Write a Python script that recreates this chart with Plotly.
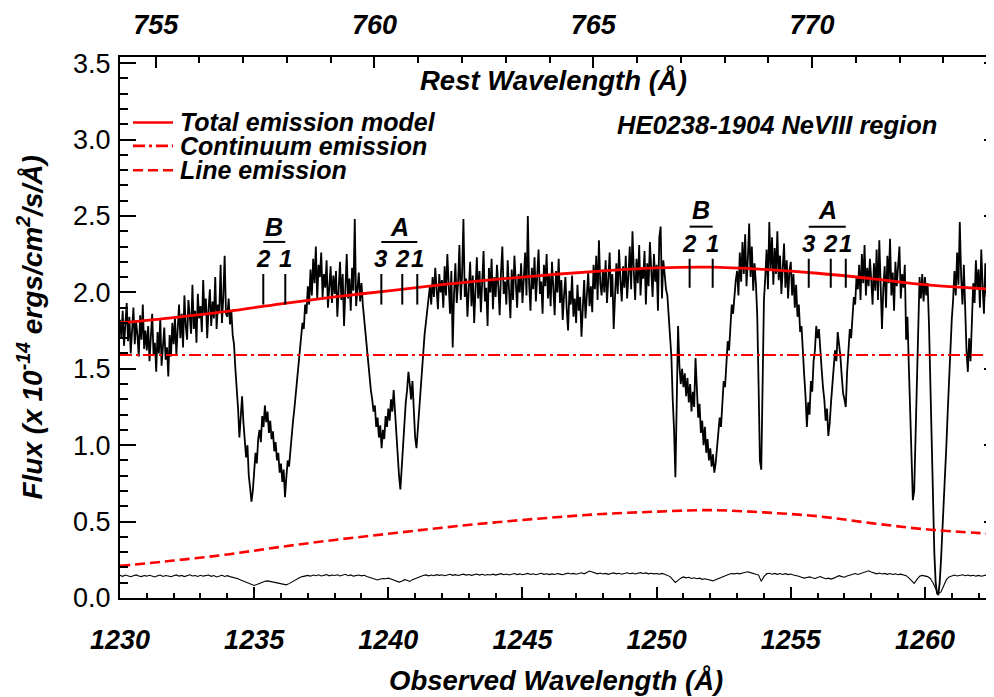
import numpy as np
import plotly.graph_objects as go

# ---------------- data ----------------
redshift = 0.6309

flux_start = 1230.0
flux_step = 0.05
flux_rows = [
    [1.82,1.70,1.88,1.65,1.79,1.93,1.68,1.84,1.60,1.77,1.90,1.66,1.81,1.72,1.58,1.85,1.69,1.92,1.63,1.75],
    [1.62,1.78,1.55,1.71,1.86,1.59,1.67,1.48,1.74,1.60,1.83,1.52,1.69,1.77,1.56,1.64,1.45,1.72,1.58,1.80],
    [1.66,1.84,1.59,1.75,1.92,1.70,1.86,1.64,1.98,1.78,1.69,1.95,1.81,1.73,2.05,1.76,1.88,1.67,1.99,1.83],
    [1.91,1.74,2.08,1.85,1.96,1.70,1.89,2.02,1.78,1.94,1.83,2.10,1.76,1.92,1.87,2.18,1.80,1.97,2.24,1.86],
    [1.84,1.96,1.79,1.88,1.72,1.66,1.50,1.38,1.24,1.05,1.18,1.32,1.15,1.06,0.92,1.00,0.80,0.72,0.63,0.70],
    [0.84,0.95,0.88,1.04,1.10,1.02,1.19,1.12,1.26,1.15,1.22,1.08,1.16,1.04,1.09,0.96,1.02,0.90,0.95,0.82],
    [0.88,0.76,0.84,0.66,0.79,0.90,0.86,0.98,1.08,1.16,1.24,1.33,1.42,1.50,1.58,1.72,1.80,1.76,1.92,1.86],
    [2.04,1.92,2.15,1.98,2.22,2.06,2.30,1.95,2.18,2.10,2.26,1.97,2.12,2.03,2.21,1.90,2.08,2.17,1.93,2.11],
    [1.99,2.14,1.84,2.07,2.20,1.95,2.12,1.78,2.03,2.25,1.96,2.09,1.88,2.16,2.01,2.48,1.91,2.05,2.13,1.94],
    [2.06,1.92,1.83,1.70,1.62,1.51,1.45,1.36,1.30,1.22,1.26,1.12,1.18,1.05,1.13,0.98,1.10,1.04,1.19,1.12],
    [1.24,1.16,1.30,1.22,1.36,1.20,1.08,0.92,0.80,0.71,0.86,1.02,1.15,1.28,1.36,1.48,1.40,1.30,1.42,1.20],
    [1.05,0.98,1.10,1.25,1.38,1.52,1.60,1.72,1.80,1.88,1.96,2.04,1.92,2.10,1.97,2.16,2.02,1.89,2.12,2.00],
    [2.08,1.90,2.17,1.98,2.25,2.03,1.86,2.14,1.64,1.99,2.19,1.93,2.06,2.31,1.95,2.12,2.48,1.97,2.09,1.84],
    [2.02,2.20,1.91,2.11,1.80,2.05,2.23,1.96,2.14,1.87,2.08,2.27,1.94,2.03,1.78,2.16,2.00,2.22,1.89,2.10],
    [1.97,2.18,2.04,1.85,2.13,2.30,1.99,2.07,1.92,2.21,2.01,1.83,2.15,1.95,2.24,2.06,1.90,2.12,2.00,2.19],
    [1.93,2.09,2.26,1.98,2.50,2.05,1.88,2.16,2.02,2.23,1.94,2.11,2.28,1.99,2.07,1.86,2.18,2.04,2.25,1.96],
    [2.12,1.91,2.20,2.03,1.85,2.14,2.00,2.22,1.93,2.08,1.82,1.98,2.10,1.89,1.75,2.01,1.92,2.11,1.84,1.96],
    [1.80,2.05,1.88,1.97,1.71,1.90,2.08,1.83,1.99,2.13,1.91,2.04,1.87,2.18,2.02,2.24,1.95,2.34,2.06,1.98],
    [2.15,2.00,2.21,1.93,2.09,2.26,1.97,2.12,1.76,2.05,2.19,1.99,2.28,2.08,1.94,2.17,2.03,2.24,1.96,2.11],
    [2.30,2.02,2.40,2.14,1.95,2.22,2.06,2.31,1.98,2.16,2.09,2.27,1.92,2.19,2.04,2.33,2.11,1.97,2.25,2.07],
    [2.18,1.88,2.36,2.43,1.96,2.21,2.12,2.02,1.98,1.85,1.70,1.58,1.30,1.10,0.79,1.20,1.78,1.52,1.40,1.50],
    [1.38,1.47,1.32,1.44,1.28,1.40,1.22,1.35,1.25,1.57,1.30,1.18,1.27,1.08,1.16,1.00,1.12,0.95,1.04,0.90],
    [0.98,0.86,0.94,0.82,0.88,0.99,1.06,1.18,1.12,1.30,1.42,1.38,1.55,1.68,1.62,1.80,1.92,1.86,2.00,2.08],
    [2.14,1.98,2.26,2.07,2.33,2.12,2.38,2.04,2.22,2.45,2.10,2.30,2.01,2.19,2.06,1.85,1.40,0.90,0.84,1.35],
    [1.95,2.10,2.28,2.02,2.46,2.15,2.36,2.05,2.29,2.12,2.40,2.08,2.24,1.99,2.18,2.32,2.03,2.21,1.96,2.14],
    [2.20,1.98,2.12,1.90,2.05,1.84,1.92,1.74,1.78,1.58,1.46,1.32,1.12,1.28,1.20,1.42,1.35,1.55,1.62,1.78],
    [1.70,1.76,1.58,1.50,1.38,1.30,1.16,1.24,1.06,1.14,1.28,1.40,1.48,1.62,1.55,1.74,1.66,1.58,1.45,1.34],
    [1.30,1.25,1.48,1.62,1.76,1.70,1.88,1.97,1.92,2.10,2.02,2.18,1.95,2.25,2.06,2.31,1.98,2.16,2.04,2.22],
    [2.08,1.92,2.19,2.01,2.28,1.95,2.34,2.10,1.76,2.03,2.17,1.90,2.24,2.06,2.35,1.98,2.13,1.88,2.20,2.04],
    [2.15,2.30,1.96,2.12,2.03,2.18,1.69,1.84,1.52,1.18,0.88,0.64,0.70,1.05,1.45,1.85,2.10,1.96,2.12,1.94],
    [2.10,1.98,2.06,1.80,1.40,1.00,0.62,0.30,0.10,0.03,0.02,0.10,0.25,0.42,0.60,0.80,1.00,1.22,1.45,1.66],
    [1.82,1.95,2.14,1.98,2.26,2.05,2.46,2.10,1.92,2.18,1.80,1.62,1.48,1.70,1.55,1.88,2.06,1.93,2.21,2.02],
    [2.15,1.90,2.28,2.04,1.86,2.19,1.97,2.24,1.85,2.08,1.94],
]

err_start = 1230.0
err_step = 0.1
err_rows = [
    [.148,.142,.150,.145,.139,.146,.151,.144,.140,.147],
    [.143,.149,.145,.138,.146,.150,.141,.147,.144,.139],
    [.146,.151,.143,.148,.140,.145,.152,.144,.147,.141],
    [.149,.143,.146,.150,.142,.147,.138,.145,.149,.141],
    [.146,.140,.137,.132,.126,.118,.110,.102,.094,.086],
    [.082,.088,.096,.104,.110,.112,.108,.104,.100,.096],
    [.092,.090,.086,.094,.104,.116,.126,.134,.140,.145],
    [.148,.143,.150,.146,.152,.144,.149,.153,.145,.150],
    [.147,.152,.144,.149,.155,.146,.151,.143,.148,.150],
    [.145,.149,.140,.134,.128,.122,.118,.124,.128,.126],
    [.130,.124,.118,.112,.104,.110,.120,.116,.108,.120],
    [.128,.136,.142,.147,.151,.145,.150,.146,.153,.148],
    [.152,.146,.151,.155,.148,.153,.147,.152,.156,.150],
    [.154,.148,.153,.157,.150,.155,.149,.154,.151,.156],
    [.150,.155,.159,.152,.157,.151,.156,.160,.153,.158],
    [.152,.157,.161,.154,.158,.152,.157,.162,.155,.159],
    [.153,.158,.154,.160,.156,.152,.158,.163,.157,.161],
    [.156,.160,.165,.158,.168,.176,.170,.162,.158,.163],
    [.157,.161,.155,.160,.164,.158,.162,.156,.161,.165],
    [.159,.163,.157,.162,.166,.160,.164,.158,.162,.158],
    [.160,.156,.161,.155,.150,.140,.120,.102,.115,.130],
    [.138,.132,.136,.128,.132,.126,.130,.122,.126,.120],
    [.116,.112,.120,.128,.136,.142,.150,.156,.160,.158],
    [.162,.158,.164,.168,.172,.166,.162,.158,.150,.110],
    [.140,.158,.162,.156,.161,.155,.160,.154,.159,.153],
    [.157,.151,.148,.142,.136,.130,.134,.138,.132,.128],
    [.134,.140,.132,.126,.130,.124,.130,.138,.146,.140],
    [.136,.144,.150,.155,.160,.154,.159,.165,.172,.178],
    [.170,.164,.158,.163,.157,.161,.155,.160,.154,.158],
    [.152,.156,.150,.146,.132,.110,.095,.120,.142,.148],
    [.146,.140,.128,.100,.060,.030,.040,.080,.120,.138],
    [.145,.150,.144,.148,.152,.146,.150,.145,.149,.143],
    [.148,.142,.147,.151,.145,.149],
]

model_wl = [1230, 1232, 1234, 1236, 1238, 1240, 1242, 1244, 1246, 1248, 1250,
            1252, 1254, 1256, 1258, 1260, 1262.5]
total_model = [1.80, 1.835, 1.875, 1.925, 1.97, 2.01, 2.05, 2.085, 2.115, 2.14, 2.16,
               2.165, 2.15, 2.125, 2.09, 2.05, 2.02]
continuum = [1.59, 1.59, 1.59, 1.59, 1.59, 1.59, 1.59, 1.59, 1.59, 1.59, 1.59,
             1.59, 1.59, 1.59, 1.59, 1.59, 1.59]
line_emission = [0.21, 0.245, 0.285, 0.335, 0.38, 0.42, 0.46, 0.495, 0.525, 0.55, 0.565,
                 0.575, 0.56, 0.535, 0.49, 0.45, 0.42]

# absorption component markers
mark_wl = [1235.34, 1236.16, 1239.74, 1240.52, 1241.08,
           1251.23, 1252.09, 1255.67, 1256.49, 1257.05]
mark_digit = ["2", "1", "3", "2", "1", "2", "1", "3", "2", "1"]
mark_top = [2.12, 2.12, 2.12, 2.12, 2.12, 2.22, 2.22, 2.22, 2.22, 2.22]
mark_bot = [1.92, 1.92, 1.92, 1.92, 1.92, 2.03, 2.03, 2.03, 2.03, 2.03]
digit_y = [2.22, 2.22, 2.22, 2.22, 2.22, 2.32, 2.32, 2.32, 2.32, 2.32]
group_letter = ["B", "A", "B", "A"]
group_x0 = [1235.34, 1239.74, 1251.23, 1255.67]
group_x1 = [1236.16, 1241.08, 1252.09, 1257.05]
group_bar_y = [2.33, 2.33, 2.43, 2.43]
group_letter_y = [2.43, 2.43, 2.54, 2.54]

obs_range = [1230.0, 1262.5]
y_range = [0.0, 3.54]

# ---------------- build ----------------
for r in flux_rows[:-1]:
    assert len(r) == 20, len(r)
for r in err_rows[:-1]:
    assert len(r) == 10, len(r)

flux = [v for r in flux_rows for v in r]
flux_wl = flux_start + flux_step * np.arange(len(flux))
err = [v for r in err_rows for v in r]
err_wl = err_start + err_step * np.arange(len(err))

FONT = "Liberation Sans, Arial, Helvetica, sans-serif"
BI = dict(family=FONT, color="black", weight="bold", style="italic")
RED = "#ff0000"
DASHDOT = "12px,4px,3px,4px"
DASH = "10px,5px"

fig = go.Figure()
fig.add_trace(go.Scatter(x=flux_wl, y=flux, mode="lines",
                         line=dict(color="black", width=1.8), hoverinfo="skip"))
fig.add_trace(go.Scatter(x=err_wl, y=err, mode="lines",
                         line=dict(color="black", width=1.1), hoverinfo="skip"))
fig.add_trace(go.Scatter(x=model_wl, y=continuum, mode="lines",
                         line=dict(color=RED, width=2.2, dash=DASHDOT), hoverinfo="skip"))
fig.add_trace(go.Scatter(x=model_wl, y=line_emission, mode="lines", line_shape="spline",
                         line=dict(color=RED, width=2.6, dash=DASH), hoverinfo="skip"))
fig.add_trace(go.Scatter(x=model_wl, y=total_model, mode="lines", line_shape="spline",
                         line=dict(color=RED, width=2.8), hoverinfo="skip"))
# invisible trace to activate the secondary axes
fig.add_trace(go.Scatter(x=[obs_range[0] / (1 + redshift), obs_range[1] / (1 + redshift)],
                         y=y_range, xaxis="x2", yaxis="y2", mode="lines",
                         line=dict(width=0), hoverinfo="skip", showlegend=False))

shapes = []
annotations = []
for wl, d, t, b, dy in zip(mark_wl, mark_digit, mark_top, mark_bot, digit_y):
    shapes.append(dict(type="line", xref="x", yref="y", x0=wl, x1=wl, y0=b, y1=t,
                       line=dict(color="black", width=2)))
    annotations.append(dict(x=wl, y=dy, xref="x", yref="y", text=d, showarrow=False,
                            font=dict(size=24, **BI), xanchor="center", yanchor="middle"))
for L, x0, x1, by, ly in zip(group_letter, group_x0, group_x1, group_bar_y, group_letter_y):
    shapes.append(dict(type="line", xref="x", yref="y", x0=x0, x1=x1, y0=by, y1=by,
                       line=dict(color="black", width=2)))
    annotations.append(dict(x=(x0 + x1) / 2, y=ly, xref="x", yref="y", text=L, showarrow=False,
                            font=dict(size=25, **BI), xanchor="center", yanchor="middle"))

# legend (drawn by hand to match the figure)
leg_items = [("Total emission model", "solid"),
             ("Continuum emission", DASHDOT),
             ("Line emission", DASH)]
leg_y = [0.879, 0.8357, 0.7906]
for (lab, dash), yy in zip(leg_items, leg_y):
    shapes.append(dict(type="line", xref="paper", yref="paper", x0=0.0149, x1=0.0608,
                       y0=yy, y1=yy, line=dict(color=RED, width=2.6, dash=dash)))
    annotations.append(dict(x=0.0665, y=yy, xref="paper", yref="paper", text=lab,
                            showarrow=False, xanchor="left", yanchor="middle",
                            font=dict(size=25, **BI)))

annotations.append(dict(x=0.7535, y=0.875, xref="paper", yref="paper",
                        text="HE0238-1904 NeVIII region", showarrow=False,
                        xanchor="center", yanchor="middle", font=dict(size=25.5, **BI)))
annotations.append(dict(x=0.4977, y=0.9567, xref="paper", yref="paper",
                        text="Rest Wavelength (Å)", showarrow=False,
                        xanchor="center", yanchor="middle", font=dict(size=27.5, **BI)))
annotations.append(dict(x=0.50, y=-0.1534, xref="paper", yref="paper",
                        text="Observed Wavelength (Å)", showarrow=False,
                        xanchor="center", yanchor="middle", font=dict(size=27.5, **BI)))
annotations.append(dict(x=-0.1032, y=0.50, xref="paper", yref="paper",
                        text="Flux (x 10<sup>-14</sup> ergs/cm<sup>2</sup>/s/Å)",
                        textangle=-90, showarrow=False,
                        xanchor="center", yanchor="middle", font=dict(size=28, **BI)))

axis_common = dict(showline=True, linewidth=2, linecolor="black", showgrid=False,
                   zeroline=False, ticks="inside", tickcolor="black")

# page body has an 8px margin: size the figure so the plot area lands where the original's does
fig.update_layout(
    width=986, height=689, autosize=False,
    margin=dict(l=112, r=2, t=36, b=99),
    paper_bgcolor="white", plot_bgcolor="white",
    showlegend=False,
    shapes=shapes, annotations=annotations,
    xaxis=dict(range=obs_range, tickmode="linear", tick0=1230, dtick=5,
               ticklen=11, tickwidth=2,
               minor=dict(ticks="inside", ticklen=5, dtick=1, tick0=1230,
                          tickwidth=1.5, tickcolor="black"),
               tickfont=dict(size=27, **BI), ticklabelstandoff=17,
               **axis_common),
    xaxis2=dict(overlaying="x", side="top", anchor="y2",
                range=[obs_range[0] / (1 + redshift), obs_range[1] / (1 + redshift)],
                tickmode="linear", tick0=755, dtick=5, ticklen=11, tickwidth=2,
                minor=dict(ticks="inside", ticklen=6, dtick=1, tick0=755,
                           tickwidth=1.5, tickcolor="black"),
                tickfont=dict(size=27, **BI), ticklabelstandoff=10,
                **axis_common),
    yaxis=dict(range=y_range, tickmode="linear", tick0=0, dtick=0.5, tickformat=".1f",
               ticklen=16, tickwidth=2,
               minor=dict(ticks="inside", ticklen=8, dtick=0.1, tick0=0,
                          tickwidth=1.5, tickcolor="black"),
               tickfont=dict(family=FONT, size=27, color="black"), ticklabelstandoff=2,
               **axis_common),
    yaxis2=dict(overlaying="y", side="right", anchor="x", range=y_range,
                tickmode="linear", tick0=0, dtick=0.5, ticklen=8, tickwidth=2,
                showticklabels=False, **axis_common),
)

fig.write_html("out.html")
